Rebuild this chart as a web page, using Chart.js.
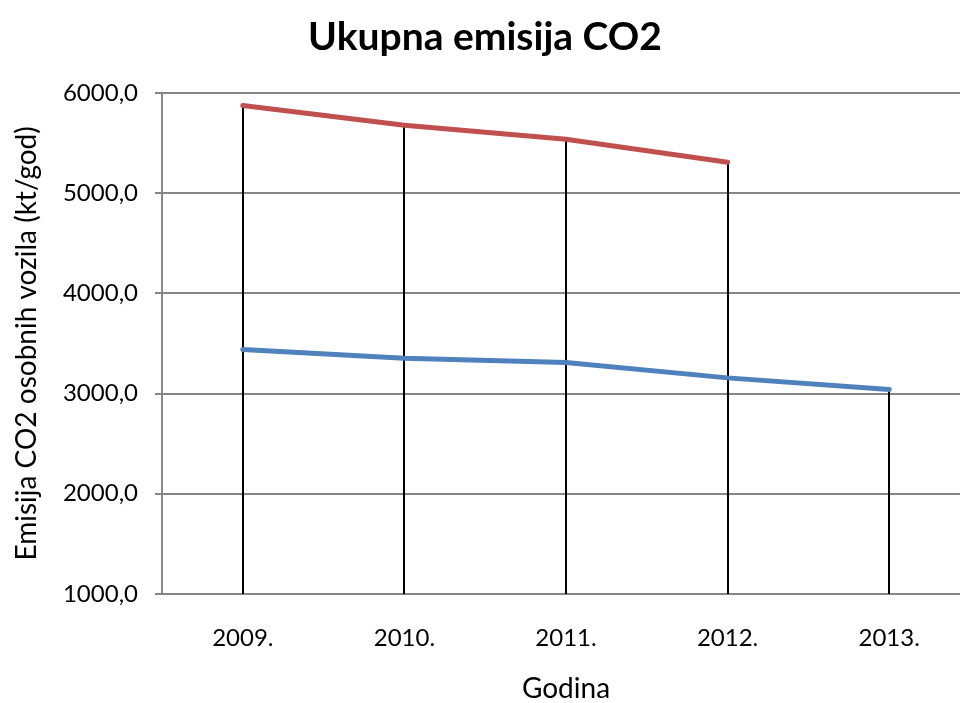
<!DOCTYPE html>
<html>
<head>
<meta charset="utf-8">
<script src="https://cdn.jsdelivr.net/npm/chart.js@4/dist/chart.umd.min.js"></script>
<style>
  html, body { margin: 0; padding: 0; background: #fff; overflow: hidden; }
  #wrap { width: 970px; height: 703px; position: relative; }
</style>
</head>
<body>
<div id="wrap"><canvas id="c"></canvas></div>
<script>
// Years on the category axis
const years = ['2009.', '2010.', '2011.', '2012.', '2013.'];
// Total CO2 emission of passenger cars (kt/god), two series
const seriesRed = [5874, 5676, 5537, 5307, null];
const seriesBlue = [3440, 3353, 3310, 3156, 3040];
// Value axis range and step
const yMin = 1000;
const yMax = 6000;
const yStep = 1000;

const FONT = 'Lato, "Open Sans", sans-serif';

// Vertical drop lines from the highest point of each year down to the category axis
const dropLines = {
  id: 'dropLines',
  beforeDatasetsDraw(chart) {
    const { ctx, scales: { x, y }, chartArea } = chart;
    ctx.save();
    ctx.strokeStyle = '#000';
    ctx.lineWidth = 2;
    years.forEach((_, i) => {
      const vals = chart.data.datasets.map(d => d.data[i]).filter(v => v !== null && v !== undefined);
      if (!vals.length) return;
      const top = Math.max(...vals);
      const px = Math.round(x.getPixelForValue(i));
      ctx.beginPath();
      ctx.moveTo(px, y.getPixelForValue(top));
      ctx.lineTo(px, chartArea.bottom);
      ctx.stroke();
    });
    ctx.restore();
  }
};

new Chart(document.getElementById('c'), {
  type: 'line',
  data: {
    labels: years,
    datasets: [
      { data: seriesRed, borderColor: '#C0504D', borderWidth: 5, pointRadius: 0, tension: 0, spanGaps: false, borderCapStyle: 'round' },
      { data: seriesBlue, borderColor: '#4F81BD', borderWidth: 5, pointRadius: 0, tension: 0, borderCapStyle: 'round' }
    ]
  },
  options: {
    responsive: true,
    maintainAspectRatio: false,
    animation: false,
    layout: { padding: 0 },
    plugins: {
      legend: { display: false },
      tooltip: { enabled: false },
      title: {
        display: true,
        text: 'Ukupna emisija CO2',
        color: '#000',
        font: { family: FONT, size: 39, weight: 'bold' },
        padding: { top: 14, bottom: 32 }
      }
    },
    scales: {
      x: {
        offset: true,
        grid: { display: false, drawTicks: false },
        border: { display: true, color: '#868686', width: 2 },
        ticks: { color: '#000', font: { family: FONT, size: 24 }, padding: 30 },
        title: { display: true, text: 'Godina', color: '#000', font: { family: FONT, size: 28, lineHeight: 1 }, padding: { top: 0, bottom: 0 } },
        afterFit(scale) { scale.height = 109; }
      },
      y: {
        min: yMin,
        max: yMax,
        ticks: {
          stepSize: yStep,
          color: '#000',
          font: { family: FONT, size: 24 },
          padding: 17,
          callback: v => v.toFixed(1).replace('.', ',')
        },
        grid: { color: '#868686', lineWidth: 2, tickLength: 7 },
        border: { display: true, color: '#868686', width: 2 },
        title: { display: true, text: 'Emisija CO2 osobnih vozila (kt/god)', color: '#000', font: { family: FONT, size: 28, lineHeight: 1 }, padding: { top: 13, bottom: 0 } },
        afterFit(scale) { scale.width = 162; }
      }
    }
  },
  plugins: [dropLines]
});
</script>
</body>
</html>
